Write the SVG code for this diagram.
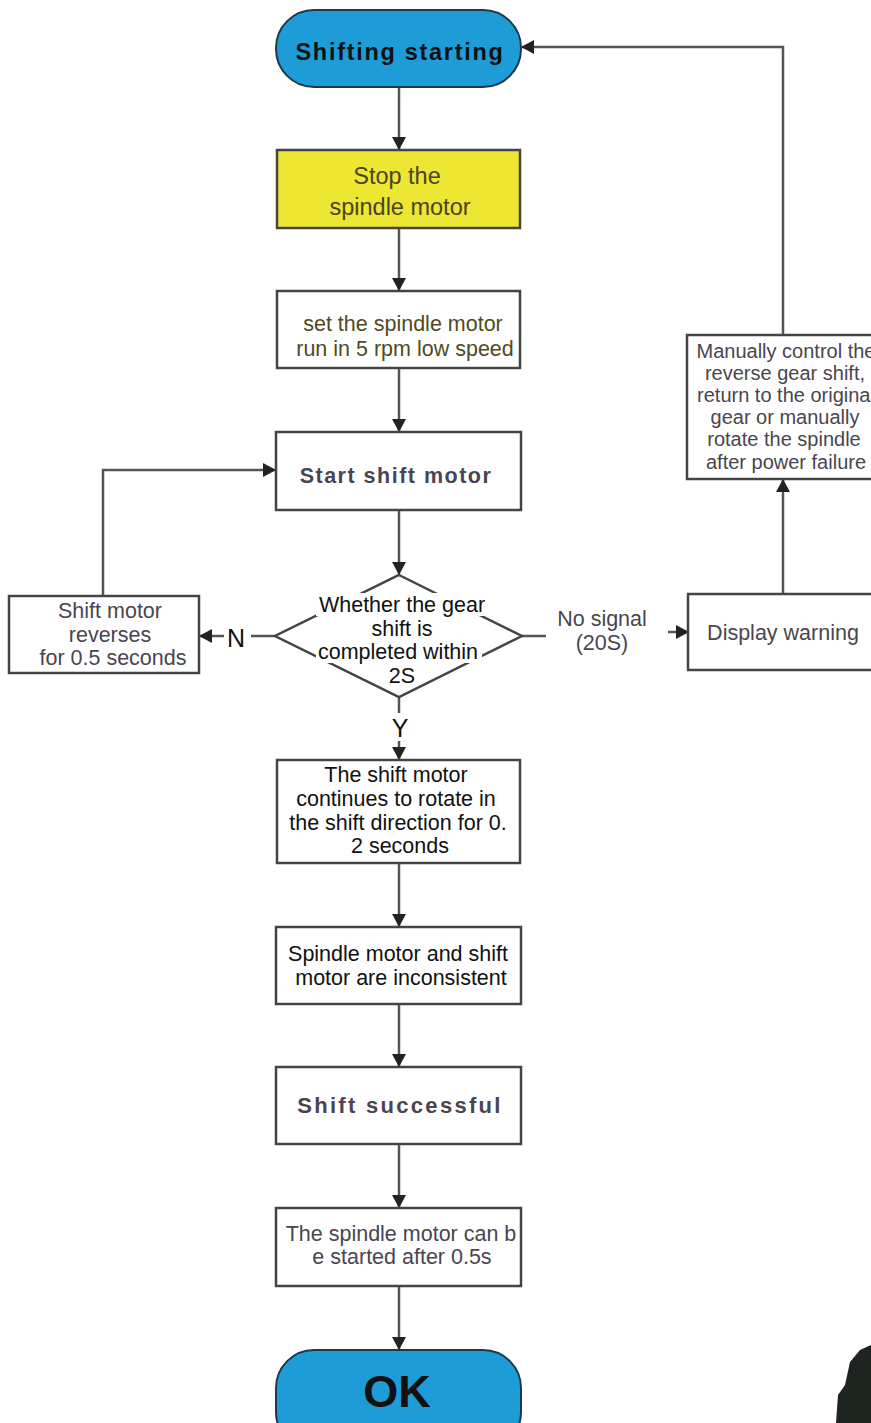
<svg xmlns="http://www.w3.org/2000/svg" width="871" height="1423" viewBox="0 0 871 1423">
<defs>
<marker id="ah" markerWidth="14" markerHeight="14" refX="12" refY="7" orient="auto" markerUnits="userSpaceOnUse">
<path d="M0,0 L13,7 L0,14 z" fill="#222"/>
</marker>
<style>
.box{fill:#fff;stroke:#444;stroke-width:2.5}
.term{fill:#1e9cd8;stroke:#1d3a4a;stroke-width:2}
.ln{fill:none;stroke:#555;stroke-width:2.5}
text{font-family:"Liberation Sans",Arial,sans-serif;text-anchor:middle}
.t{font-size:21.5px;fill:#4a4550}
.bt{font-size:21.5px;font-weight:bold;fill:#4a4550;letter-spacing:1.5px}
.k{font-size:21.5px;fill:#111}
.ol{font-size:21.5px;fill:#4f4a22}
.m{font-size:20px;fill:#4a4550}
</style>
</defs>
<rect width="871" height="1423" fill="#fff"/>
<g id="connectors">
<line class="ln" x1="399" y1="87" x2="399" y2="149" marker-end="url(#ah)"/>
<line class="ln" x1="399" y1="228" x2="399" y2="290" marker-end="url(#ah)"/>
<line class="ln" x1="399" y1="368" x2="399" y2="431" marker-end="url(#ah)"/>
<line class="ln" x1="399" y1="510" x2="399" y2="574" marker-end="url(#ah)"/>
<line class="ln" x1="399" y1="697" x2="399" y2="713"/>
<line class="ln" x1="399" y1="741" x2="399" y2="759" marker-end="url(#ah)"/>
<line class="ln" x1="399" y1="863" x2="399" y2="926" marker-end="url(#ah)"/>
<line class="ln" x1="399" y1="1004" x2="399" y2="1066" marker-end="url(#ah)"/>
<line class="ln" x1="399" y1="1144" x2="399" y2="1207" marker-end="url(#ah)"/>
<line class="ln" x1="399" y1="1286" x2="399" y2="1349" marker-end="url(#ah)"/>
<line class="ln" x1="275" y1="636" x2="251" y2="636"/>
<line class="ln" x1="224" y1="636" x2="200" y2="636" marker-end="url(#ah)"/>
<polyline class="ln" points="103,596 103,470 275,470" marker-end="url(#ah)"/>
<line class="ln" x1="522" y1="636" x2="546" y2="636"/>
<line class="ln" x1="668" y1="632" x2="688" y2="632" marker-end="url(#ah)"/>
<line class="ln" x1="783" y1="594" x2="783" y2="480" marker-end="url(#ah)"/>
<polyline class="ln" points="783,335 783,47 522,47" marker-end="url(#ah)"/>
<text class="k" x="236" y="647" style="font-size:25px">N</text>
<text class="k" x="400" y="737" style="font-size:25px">Y</text>
<text class="t" x="602" y="626">No signal</text>
<text class="t" x="602" y="650">(20S)</text>
</g>
<g id="n-start">
<rect class="term" x="276" y="10" width="245" height="77" rx="38"/>
<text x="400" y="60" style="font-size:23.5px;font-weight:bold;fill:#111;letter-spacing:1.7px">Shifting starting</text>
</g>
<g id="n-stop">
<rect class="box" x="277" y="150" width="243" height="78" style="fill:#ede632"/>
<text x="397" y="184" style="font-size:23.5px;fill:#4a4420">Stop the</text>
<text x="400" y="215" style="font-size:23.5px;fill:#4a4420">spindle motor</text>
</g>
<g id="n-low">
<rect class="box" x="277" y="291" width="243" height="77"/>
<text class="ol" x="403" y="331">set the spindle motor</text>
<text class="ol" x="405" y="356">run in 5 rpm low speed</text>
</g>
<g id="n-shiftmotor">
<rect class="box" x="276" y="432" width="245" height="78"/>
<text class="bt" x="396" y="483">Start shift motor</text>
</g>
<g id="n-decision">
<polygon points="399,575 522,636 399,697 275,636" fill="#fff" stroke="#444" stroke-width="2.5"/>
<rect x="316" y="593" width="172" height="23" fill="#fff"/>
<rect x="364" y="617" width="74" height="23" fill="#fff"/>
<rect x="316" y="640" width="166" height="23" fill="#fff"/>
<rect x="384" y="664" width="32" height="23" fill="#fff"/>
<text class="k" x="402" y="612">Whether the gear</text>
<text class="k" x="402" y="636">shift is</text>
<text class="k" x="398" y="659">completed within</text>
<text class="k" x="402" y="683">2S</text>
</g>
<g id="n-reverse">
<rect class="box" x="9" y="596" width="190" height="77"/>
<text class="t" x="110" y="618">Shift motor</text>
<text class="t" x="110" y="642">reverses</text>
<text class="t" x="113" y="665">for 0.5 seconds</text>
</g>
<g id="n-warning">
<rect class="box" x="688" y="594" width="190" height="76"/>
<text class="t" x="783" y="640">Display warning</text>
</g>
<g id="n-manual">
<rect class="box" x="687" y="335" width="190" height="144"/>
<text class="m" x="786" y="358">Manually control the</text>
<text class="m" x="785" y="380">reverse gear shift,</text>
<text class="m" x="786" y="402">return to the original</text>
<text class="m" x="785" y="424">gear or manually</text>
<text class="m" x="784" y="446">rotate the spindle</text>
<text class="m" x="786" y="469">after power failure</text>
</g>
<g id="n-continue">
<rect class="box" x="277" y="760" width="243" height="103"/>
<text class="k" x="396" y="782">The shift motor</text>
<text class="k" x="396" y="806">continues to rotate in</text>
<text class="k" x="398" y="830">the shift direction for 0.</text>
<text class="k" x="400" y="853">2 seconds</text>
</g>
<g id="n-inconsistent">
<rect class="box" x="276" y="927" width="245" height="77"/>
<text class="k" x="398" y="961">Spindle motor and shift</text>
<text class="k" x="401" y="985">motor are inconsistent</text>
</g>
<g id="n-success">
<rect class="box" x="276" y="1067" width="245" height="77"/>
<text x="400" y="1113" style="font-size:22px;font-weight:bold;fill:#4a4550;letter-spacing:2.3px">Shift successful</text>
</g>
<g id="n-restart">
<rect class="box" x="276" y="1208" width="245" height="78"/>
<text class="t" x="401" y="1241">The spindle motor can b</text>
<text class="t" x="402" y="1264">e started after 0.5s</text>
</g>
<g id="n-ok">
<rect class="term" x="276" y="1350" width="245" height="100" rx="38"/>
<text x="397" y="1407" style="font-size:45px;font-weight:bold;fill:#111">OK</text>
</g>
<path d="M871,1345 L860,1350 L850,1362 L845,1385 L838,1395 L836,1423 L871,1423 z" fill="#1e2420"/>
</svg>
